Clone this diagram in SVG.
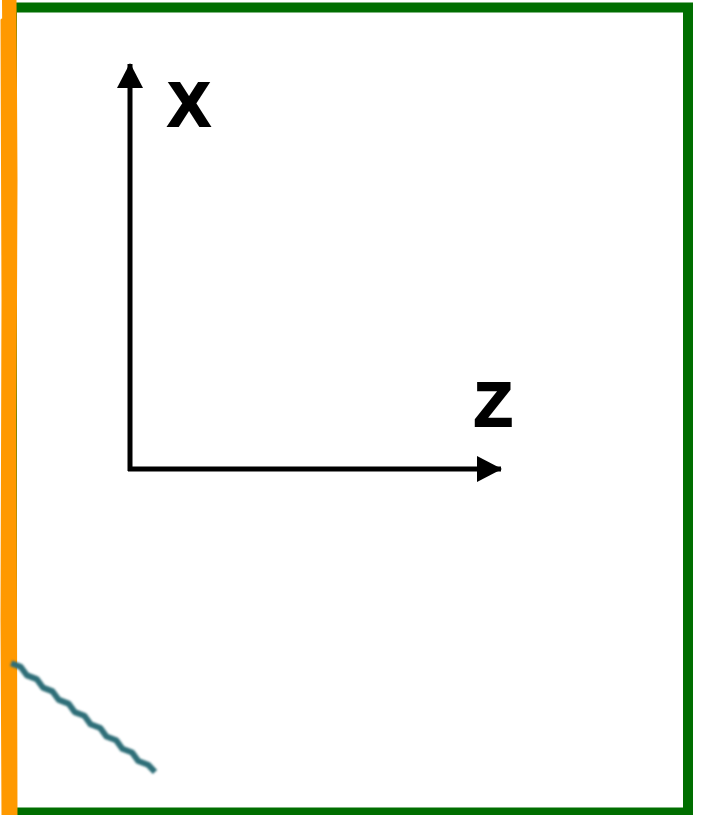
<svg xmlns="http://www.w3.org/2000/svg" width="712" height="815" viewBox="0 0 712 815">
  <style>
    .axis { stroke: #000; stroke-width: 5; fill: none; }
    .lbl { font-family: "Liberation Sans", Arial, sans-serif; font-weight: bold; font-size: 63px; fill: #000; stroke: #000; stroke-width: 2.2; stroke-linejoin: miter; }
    .frame { fill: none; stroke: #006e00; stroke-width: 10; }
    .orange { fill: none; stroke: #ff9900; stroke-linecap: round; }
  </style>
  <defs>
    <marker id="arrow" viewBox="0 0 25 26" refX="24" refY="13" markerWidth="25" markerHeight="26" markerUnits="userSpaceOnUse" orient="auto">
      <path d="M0,0 L25,13 L0,26 Z" fill="#000"/>
    </marker>
    <filter id="soft" x="-10%" y="-10%" width="120%" height="120%">
      <feGaussianBlur stdDeviation="0.8"/>
    </filter>
  </defs>

  <rect x="0" y="0" width="712" height="815" fill="#fff"/>

  <g id="frame">
    <rect class="frame" x="12" y="7.5" width="676" height="805"/>
  </g>

  <g id="orange-edge">
    <path class="orange" stroke-width="8" d="M8,0 L9,200 L8,400 L9,600 L9,815"/>
    <path class="orange" stroke-width="4" d="M4,0 L5,150 L4,350 L5,560 L4,815"/>
    <path class="orange" stroke-width="4" d="M13,0 L14,250 L13,480 L14,700 L13,815"/>
    <path class="orange" stroke-width="3" d="M2,20 L3,300 L2,620 L3,815"/>
    <path class="orange" stroke-width="3" d="M15,0 L16,180 L15,420 L16,815"/>
  </g>

  <g id="teal-line">
    <polyline fill="none" stroke="#2e6e78" stroke-width="6" stroke-linejoin="round" filter="url(#soft)"
      points="11.1,663.2 20.8,666.9 27,675.4 36.7,679.1 42.9,687.6 52.6,691.4 58.8,699.9 68.5,703.6 74.7,712.1 84.4,715.8 90.5,724.3 100.3,728 106.4,736.5 116.2,740.2 122.3,748.8 132.1,752.5 138.2,761 148,764.7 155,772"/>
  </g>

  <g id="connectors">
    <line class="axis" x1="130" y1="471" x2="130" y2="64" marker-end="url(#arrow)"/>
    <line class="axis" x1="128" y1="469" x2="501" y2="469" marker-end="url(#arrow)"/>
  </g>

  <g id="label-x">
    <text class="lbl" x="168" y="126">X</text>
  </g>
  <g id="label-z">
    <text class="lbl" x="474" y="426">Z</text>
  </g>
</svg>
